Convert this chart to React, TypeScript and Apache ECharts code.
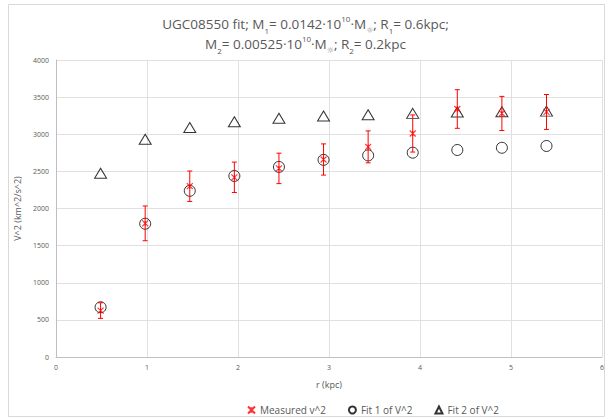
import React, { useEffect, useRef } from "react";
import * as echarts from "echarts";

const radii = [0.49, 0.98, 1.47, 1.96, 2.45, 2.94, 3.43, 3.92, 4.41, 4.9, 5.39];
const measured = [625, 1800, 2300, 2420, 2540, 2660, 2830, 3010, 3340, 3280, 3300];
const measuredErr = [105, 234, 205, 205, 205, 210, 215, 250, 260, 230, 235];
const fit1 = [670, 1795, 2238, 2438, 2560, 2655, 2715, 2752, 2788, 2818, 2842];
const fit2 = [2475, 2932, 3090, 3168, 3215, 3245, 3262, 3281, 3300, 3304, 3312];
const legendNames = ["Measured v^2", "Fit 1 of V^2", "Fit 2 of V^2"];

const FONT = "'Open Sans', 'Noto Sans', sans-serif";
const GRAY = "#595959";
const XMARK = "path://M0,0L10,10M10,0L0,10M5,1L5,9";

export default function App() {
  const ref = useRef<HTMLDivElement>(null);
  useEffect(() => {
    if (!ref.current) return;
    const chart = echarts.init(ref.current, undefined, { renderer: "svg" });
    const errData = radii.map((r, i) => [r, measured[i] - measuredErr[i], measured[i] + measuredErr[i]]);
    const titleText =
      "{n|UGC08550 fit; M}{sub|1}{n|= 0.0142·10}{sup|10}{n|·M}{sun|☼}{n|; R}{sub|1}{n|= 0.6kpc;}\n" +
      "{n|M}{sub|2}{n|= 0.00525·10}{sup|10}{n|·M}{sun|☼}{n|; R}{sub|2}{n|= 0.2kpc}";
    chart.setOption({
      animation: false,
      backgroundColor: "#fff",
      textStyle: { fontFamily: FONT },
      title: {
        text: titleText,
        left: "center",
        top: 9,
        padding: [5, 0, 5, 10],
        textStyle: {
          fontWeight: "normal",
          rich: {
            n: { fontFamily: FONT, fontSize: 13.5, fontWeight: "normal", color: GRAY, lineHeight: 20 },
            sub: { fontFamily: FONT, fontSize: 8, fontWeight: "normal", color: GRAY, lineHeight: 10, verticalAlign: "bottom" },
            sun: { fontFamily: "'DejaVu Sans', sans-serif", fontSize: 8, fontWeight: "normal", color: "#8c8c8c", lineHeight: 10, verticalAlign: "bottom" },
            sup: { fontFamily: FONT, fontSize: 8, fontWeight: "normal", color: GRAY, lineHeight: 10, verticalAlign: "top" },
          },
        },
      },
      graphic: [
        {
          type: "rect",
          shape: { x: 8.5, y: 4.5, width: 596, height: 412 },
          style: { fill: "none", stroke: "#d9d9d9", lineWidth: 1 },
          silent: true,
        },
      ],
      legend: {
        top: 400,
        left: 242,
        itemGap: 22,
        itemWidth: 7,
        itemHeight: 7,
        textStyle: { fontFamily: FONT, fontSize: 10, color: GRAY },
        data: legendNames,
      },
      grid: { left: 56, right: 9, top: 60, bottom: 62 },
      xAxis: {
        type: "value",
        min: 0,
        max: 6,
        interval: 1,
        name: "r (kpc)",
        nameLocation: "middle",
        nameGap: 23,
        nameTextStyle: { fontFamily: FONT, fontSize: 9, color: GRAY },
        axisLine: { show: true, lineStyle: { color: "#bfbfbf" } },
        axisTick: { show: false },
        axisLabel: { fontFamily: FONT, fontSize: 7, color: GRAY, margin: 7 },
        splitLine: { show: true, lineStyle: { color: "#e0e0e0" } },
      },
      yAxis: {
        type: "value",
        min: 0,
        max: 4000,
        interval: 500,
        name: "V^2 (km^2/s^2)",
        nameLocation: "middle",
        nameGap: 33,
        nameTextStyle: { fontFamily: FONT, fontSize: 9, color: GRAY },
        axisLine: { show: true, lineStyle: { color: "#bfbfbf" } },
        axisTick: { show: false },
        axisLabel: {
          fontFamily: FONT,
          fontSize: 7,
          color: GRAY,
          margin: 7,
          formatter: (v: number) => String(v),
        },
        splitLine: { show: true, lineStyle: { color: "#e0e0e0" } },
      },
      series: [
        {
          name: legendNames[2],
          type: "scatter",
          symbol: "triangle",
          symbolSize: [12, 10],
          itemStyle: { color: "rgba(255,255,255,0)", borderColor: "#000", borderWidth: 1 },
          data: radii.map((r, i) => [r, fit2[i]]),
          z: 3,
        },
        {
          name: legendNames[1],
          type: "scatter",
          symbol: "circle",
          symbolSize: 11,
          itemStyle: { color: "rgba(255,255,255,0)", borderColor: "#000", borderWidth: 1 },
          data: radii.map((r, i) => [r, fit1[i]]),
          z: 3,
        },
        {
          name: "errors",
          type: "custom",
          data: errData,
          z: 4,
          renderItem: (params: any, api: any) => {
            const x = api.value(0);
            const lo = api.coord([x, api.value(1)]);
            const hi = api.coord([x, api.value(2)]);
            const cap = 2.5;
            const st = { stroke: "#ff0000", lineWidth: 1 };
            return {
              type: "group",
              children: [
                { type: "line", shape: { x1: lo[0], y1: lo[1], x2: hi[0], y2: hi[1] }, style: st },
                { type: "line", shape: { x1: lo[0] - cap, y1: lo[1], x2: lo[0] + cap, y2: lo[1] }, style: st },
                { type: "line", shape: { x1: hi[0] - cap, y1: hi[1], x2: hi[0] + cap, y2: hi[1] }, style: st },
              ],
            };
          },
        },
        {
          name: legendNames[0],
          type: "scatter",
          symbol: XMARK,
          symbolSize: 6,
          itemStyle: { color: "rgba(255,0,0,0)", borderColor: "#ff0000", borderWidth: 1.1 },
          data: radii.map((r, i) => [r, measured[i]]),
          z: 5,
        },
      ],
    });
    return () => chart.dispose();
  }, []);
  return (
    <div
      ref={ref}
      style={{ position: "fixed", left: 0, top: 0, width: 611, height: 419 }}
    />
  );
}
